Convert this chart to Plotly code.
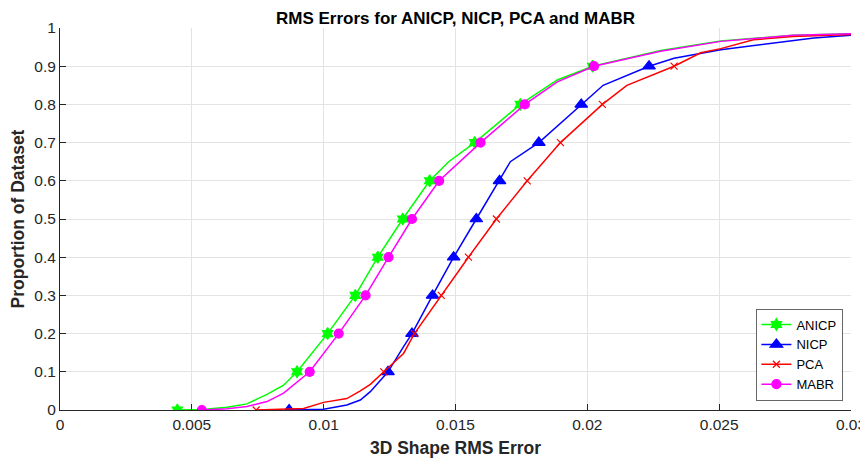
import plotly.graph_objects as go

# ---- data ----
anicp_x = [0.00445, 0.0054, 0.00633, 0.00709, 0.00785, 0.00848, 0.00899, 0.01015, 0.0112, 0.01205,
           0.013, 0.01402, 0.01474, 0.01573, 0.01746, 0.01886, 0.0202, 0.02278, 0.02506, 0.0263, 0.0278, 0.03]
anicp_y = [0, 0.001, 0.007, 0.016, 0.041, 0.065, 0.1, 0.2, 0.3, 0.4,
           0.5, 0.6, 0.65, 0.7, 0.8, 0.864, 0.9, 0.941, 0.966, 0.973, 0.981, 0.985]

mabr_x = [0.00538, 0.00633, 0.00709, 0.00785, 0.00848, 0.00911, 0.00947, 0.01057, 0.01159, 0.01246,
          0.01335, 0.01438, 0.01595, 0.01763, 0.01886, 0.02025, 0.02278, 0.02506, 0.0263, 0.0278, 0.03]
mabr_y = [0, 0.003, 0.009, 0.022, 0.044, 0.079, 0.1, 0.2, 0.3, 0.4,
          0.5, 0.6, 0.7, 0.8, 0.859, 0.9, 0.939, 0.965, 0.972, 0.981, 0.985]

nicp_x = [0.00869, 0.01, 0.01088, 0.01139, 0.01177, 0.01215, 0.01244, 0.01303, 0.01335, 0.01413, 0.01493,
          0.01579, 0.01667, 0.01708, 0.01816, 0.01977, 0.0206, 0.02234, 0.02329, 0.02506, 0.02657, 0.02859, 0.03]
nicp_y = [0, 0.002, 0.013, 0.026, 0.048, 0.079, 0.1, 0.166, 0.2, 0.3, 0.4,
          0.5, 0.6, 0.65, 0.7, 0.8, 0.85, 0.9, 0.921, 0.943, 0.956, 0.974, 0.981]

pca_x = [0.00744, 0.00924, 0.01, 0.01088, 0.01139, 0.01177, 0.01228, 0.01303, 0.01344, 0.01446, 0.01549,
         0.01655, 0.01772, 0.01898, 0.02057, 0.0215, 0.02329, 0.0243, 0.02506, 0.0263, 0.0278, 0.03]
pca_y = [0, 0.004, 0.02, 0.03, 0.05, 0.067, 0.1, 0.148, 0.2, 0.3, 0.4,
         0.5, 0.6, 0.7, 0.8, 0.85, 0.9, 0.935, 0.946, 0.969, 0.978, 0.983]

# marker positions at each 0.1 of the dataset
levels = [0, 0.1, 0.2, 0.3, 0.4, 0.5, 0.6, 0.7, 0.8, 0.9]
anicp_mx = [0.00445, 0.00899, 0.01015, 0.0112, 0.01205, 0.013, 0.01402, 0.01573, 0.01746, 0.0202]
mabr_mx = [0.00538, 0.00947, 0.01057, 0.01159, 0.01246, 0.01335, 0.01438, 0.01595, 0.01763, 0.02025]
nicp_mx = [0.00869, 0.01244, 0.01335, 0.01413, 0.01493, 0.01579, 0.01667, 0.01816, 0.01977, 0.02234]
pca_mx = [0.00744, 0.01228, 0.01344, 0.01446, 0.01549, 0.01655, 0.01772, 0.01898, 0.02057, 0.02329]

series = [
    ('ANICP', anicp_x, anicp_y, anicp_mx, '#00ff00', 'hexagram', 9),
    ('NICP', nicp_x, nicp_y, nicp_mx, '#0000ff', 'triangle-up', 11),
    ('PCA', pca_x, pca_y, pca_mx, '#ff0000', 'x-thin-open', 7),
    ('MABR', mabr_x, mabr_y, mabr_mx, '#ff00ff', 'circle', 9),
]

fig = go.Figure()
for name, xs, ys, mx, col, sym, sz in series:
    fig.add_trace(go.Scatter(x=xs, y=ys, mode='lines', line=dict(color=col, width=1.5),
                             showlegend=False, hoverinfo='skip'))
    fig.add_trace(go.Scatter(x=mx, y=levels, mode='markers', showlegend=False,
                             marker=dict(symbol=sym, size=sz, color=col,
                                         line=dict(color=col, width=1.2))))
    # legend entry
    fig.add_trace(go.Scatter(x=[None], y=[None], mode='lines+markers', name=name,
                             line=dict(color=col, width=1.5),
                             marker=dict(symbol=sym, size=sz, color=col,
                                         line=dict(color=col, width=1.2))))

# page has an 8px body margin, so the figure is 8px smaller and margins shifted
axis_font = dict(family='Liberation Sans, Arial, sans-serif', size=15.5, color='#262626')
fig.update_layout(
    width=860, height=451,
    margin=dict(l=52, r=17, t=20, b=49),
    paper_bgcolor='white', plot_bgcolor='white',
    font=axis_font,
    title=dict(text='<b>RMS Errors for ANICP, NICP, PCA and MABR</b>', x=0.5, xref='paper',
               yref='container', y=1 - 4 / 451, yanchor='top', pad=dict(t=0),
               font=dict(size=17, color='#000000')),
    legend=dict(x=0.9895, y=0.024, xanchor='right', yanchor='bottom', bgcolor='white',
                bordercolor='#262626', borderwidth=0.7, font=dict(size=13, color='#000000'),
                tracegroupgap=0, itemwidth=30),
)
fig.update_xaxes(range=[0, 0.03], tickvals=[0, 0.005, 0.01, 0.015, 0.02, 0.025, 0.03],
                 ticktext=['0', '0.005', '0.01', '0.015', '0.02', '0.025', '0.03'],
                 showgrid=True, gridcolor='#e3e3e3', gridwidth=1, automargin=False,
                 showline=True, linecolor='#262626', linewidth=1,
                 ticks='inside', ticklen=6, tickcolor='#262626', zeroline=False,
                 title=dict(text='<b>3D Shape RMS Error</b>', font=dict(size=17.5, color='#262626'), standoff=10))
fig.update_yaxes(range=[0, 1], tickvals=[0, 0.1, 0.2, 0.3, 0.4, 0.5, 0.6, 0.7, 0.8, 0.9, 1],
                 ticktext=['0', '0.1', '0.2', '0.3', '0.4', '0.5', '0.6', '0.7', '0.8', '0.9', '1'],
                 showgrid=True, gridcolor='#e3e3e3', gridwidth=1, automargin=False,
                 showline=True, linecolor='#262626', linewidth=1,
                 ticks='inside', ticklen=6, tickcolor='#262626', zeroline=False,
                 title=dict(text='<b>Proportion of Dataset</b>', font=dict(size=17.5, color='#262626'), standoff=8))

fig.write_html('out.html')
